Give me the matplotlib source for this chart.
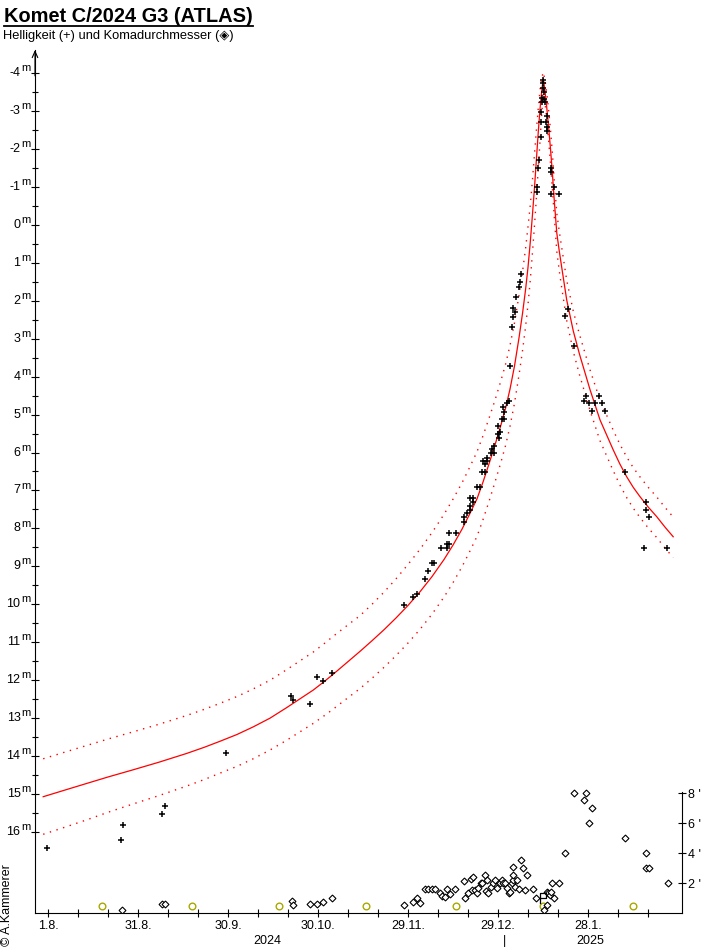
import matplotlib
matplotlib.use('Agg')
import matplotlib.pyplot as plt
import matplotlib.transforms as mtransforms
from matplotlib.lines import Line2D
from matplotlib.ticker import FixedLocator

plt.rcParams['font.family'] = ['Liberation Sans', 'DejaVu Sans']

# x values are days since 1.8.2024

# observed brightness (+)
mag_days = [-0.4, 24.4, 25.1, 38.1, 39.0, 59.2, 81.1, 81.8, 87.4, 89.8, 91.8, 94.8,
            118.8, 121.8, 122.9, 125.8, 126.8, 127.9, 128.8, 130.9, 132.9, 132.9, 133.8,
            133.8, 135.9, 138.8, 138.8, 139.6, 140.7, 140.7, 141.8, 140.8, 141.8, 142.9,
            144.0, 144.6, 145.7, 145.7, 145.1, 146.2, 146.2, 147.6, 148.7, 148.1, 148.7,
            150.2, 149.9, 150.8, 149.9, 151.2, 151.9, 152.0, 151.8, 153.0, 153.8, 154.1,
            154.8, 155.1, 155.8, 155.1, 156.0, 157.0, 157.2, 157.8,
            162.9, 163.1, 163.3, 163.6, 164.2, 164.2, 164.4, 164.7, 164.7, 164.9, 164.9,
            165.1, 165.2, 165.4, 165.6, 166.0, 166.2, 166.4, 166.4, 167.6, 167.8, 167.8,
            168.8, 170.4, 172.4, 173.4, 175.4, 178.8, 179.4, 180.4, 181.4, 182.4, 183.8,
            184.8, 185.8, 192.4, 198.8, 199.4, 199.4, 200.4, 206.4]
mag_vals = [16.43, 16.22, 15.82, 15.53, 15.32, 13.92, 12.42, 12.53, 12.64, 11.92, 12.03, 11.82,
            10.03, 9.82, 9.72, 9.33, 9.13, 8.91, 8.91, 8.52, 8.52, 8.41, 8.41,
            8.13, 8.13, 7.82, 7.70, 7.60, 7.52, 7.41, 7.31, 7.21, 7.21, 6.92,
            6.92, 6.52, 6.52, 6.31, 6.22, 6.22, 6.15, 6.02, 6.02, 5.92, 5.84,
            5.63, 5.52, 5.45, 5.30, 5.13, 5.13, 4.93, 4.81, 4.70, 4.63, 3.71,
            2.70, 2.42, 2.31, 2.20, 1.91, 1.63, 1.51, 1.30,
            -0.99, -0.87, -1.49, -1.70, -2.31, -2.72, -2.98, -3.23, -3.33, -3.60, -3.82,
            -3.73, -3.51, -3.32, -3.23, -2.70, -2.88, -2.59, -2.48, -1.38, -1.49, -0.81,
            -0.99, -0.81, 2.40, 2.22, 3.20, 4.63, 4.52, 4.70, 4.91, 4.70, 4.52,
            4.70, 4.91, 6.52, 8.52, 7.31, 7.52, 7.71, 8.52]

# brightness model (red line) and its dotted limits, all read at the same dates
curve_days = [-1.6, 5.0, 12.9, 20.0, 28.4, 37.0, 46.2, 52.0, 57.3, 63.0, 68.4, 74.0,
              79.6, 84.0, 88.4, 92.0, 95.1, 100.0, 104.0, 108.0, 112.0, 116.0, 120.0,
              124.0, 128.0, 132.0, 135.0, 138.0, 140.5, 143.0, 145.0, 147.0, 149.0, 151.0,
              152.5, 154.0, 155.5, 157.0, 158.2, 159.2, 160.0, 160.8, 161.5, 162.2, 162.8,
              163.4, 164.0, 164.6, 165.1, 165.7, 166.3, 166.9, 167.5, 168.1, 168.7, 169.6,
              170.4, 171.2, 172.9, 175.1, 177.2, 180.7, 184.0, 188.4, 190.6, 192.9, 195.1,
              197.3, 200.1, 202.9, 205.6, 208.4]
curve_mag = [15.07, 14.91, 14.72, 14.55, 14.36, 14.16, 13.93, 13.77, 13.61, 13.43, 13.23, 13.00,
             12.72, 12.49, 12.26, 12.04, 11.84, 11.51, 11.24, 10.96, 10.67, 10.36, 10.03,
             9.67, 9.27, 8.82, 8.44, 8.02, 7.63, 7.22, 6.78, 6.30, 5.80, 5.27,
             4.84, 4.33, 3.72, 2.98, 2.32, 1.70, 1.12, 0.42, -0.28, -1.02, -1.72,
             -2.42, -3.05, -3.55, -3.86, -3.50, -3.05, -2.55, -2.00, -1.40, -0.70, 0.22,
             0.68, 1.10, 1.98, 2.80, 3.42, 4.35, 5.14, 5.93, 6.30, 6.64, 6.92,
             7.16, 7.44, 7.69, 7.96, 8.22]
upper_mag = [14.07, 13.91, 13.72, 13.55, 13.36, 13.16, 12.93, 12.77, 12.61, 12.43, 12.23, 12.00,
             11.72, 11.49, 11.26, 11.04, 10.84, 10.54, 10.30, 10.00, 9.68, 9.33, 8.95,
             8.55, 8.11, 7.63, 7.23, 6.80, 6.40, 5.98, 5.56, 5.10, 4.62, 4.10,
             3.68, 3.18, 2.58, 1.86, 1.22, 0.62, 0.05, -0.55, -1.20, -1.90, -2.50,
             -3.05, -3.55, -3.88, -4.02, -3.80, -3.45, -3.00, -2.50, -1.92, -1.22, -0.30,
             0.16, 0.58, 1.46, 2.28, 2.90, 3.83, 4.62, 5.41, 5.78, 6.12, 6.40,
             6.64, 6.92, 7.17, 7.44, 7.70]
lower_mag = [16.06, 15.89, 15.68, 15.48, 15.26, 15.04, 14.79, 14.62, 14.45, 14.27, 14.07, 13.84,
             13.58, 13.36, 13.14, 12.94, 12.76, 12.46, 12.22, 11.95, 11.66, 11.35, 11.02,
             10.66, 10.26, 9.81, 9.43, 9.01, 8.62, 8.21, 7.77, 7.29, 6.78, 6.25,
             5.82, 5.31, 4.70, 3.96, 3.30, 2.68, 2.10, 1.42, 0.72, -0.02, -0.72,
             -1.45, -2.20, -2.95, -3.45, -3.20, -2.75, -2.20, -1.62, -0.98, -0.28, 0.70,
             1.20, 1.64, 2.52, 3.34, 3.96, 4.90, 5.69, 6.48, 6.85, 7.19, 7.47,
             7.71, 7.99, 8.24, 8.51, 8.77]

# coma diameter in arcmin (diamonds)
coma_days = [24.6, 38.1, 39.0, 81.2, 81.8, 87.3, 89.6, 91.8, 94.8,
             118.8, 121.8, 122.9, 123.9, 125.7, 126.8, 127.9, 129.0, 130.7, 131.2, 132.3,
             133.1, 134.0, 135.7, 138.7, 139.0, 140.1, 141.0, 141.8, 141.2, 142.3, 142.9,
             143.4, 144.3, 144.6, 145.7, 146.2, 146.0, 146.8, 147.5, 148.2, 149.0, 149.6,
             150.7, 151.2, 151.8, 152.3, 152.9, 153.5, 154.0, 154.6, 155.1, 155.1, 155.1,
             155.7, 156.4, 157.0, 157.6, 158.4, 159.0, 159.6, 161.6, 162.7, 165.4, 166.2,
             166.2, 166.8, 167.3, 167.6, 168.1, 168.7, 170.3, 172.3, 175.4, 178.8, 179.3,
             180.3, 181.4, 192.3, 199.3, 199.3, 200.3, 206.6]
coma_vals = [0.22, 0.60, 0.60, 0.80, 0.53, 0.58, 0.58, 0.73, 0.98,
             0.53, 0.76, 0.98, 0.69, 1.58, 1.58, 1.58, 1.58, 1.31, 1.13, 1.09,
             1.58, 1.27, 1.58, 2.16, 0.98, 1.31, 2.24, 2.42, 1.53, 1.53, 1.31,
             1.64, 2.02, 1.98, 2.53, 2.20, 1.49, 1.31, 1.76, 1.98, 2.20, 1.64,
             1.98, 2.20, 1.98, 1.98, 1.64, 1.31, 1.42, 1.98, 2.20, 2.53, 3.04,
             1.76, 2.20, 1.58, 3.53, 3.02, 1.53, 2.53, 1.58, 0.98, 0.20, 0.53,
             1.42, 1.31, 1.20, 1.42, 2.02, 0.98, 2.02, 3.98, 7.98, 7.53, 7.98,
             5.98, 6.98, 4.98, 3.98, 2.98, 2.98, 1.98]

# full moon dates
moon_days = [18, 48, 77, 106, 136, 165, 195]
peri_day = 164.1

mag_ticks = list(range(-4, 17))
date_ticks = [0, 30, 60, 90, 120, 150, 180]
date_labels = ['1.8.', '31.8.', '30.9.', '30.10.', '29.11.', '29.12.', '28.1.']
coma_ticks = [2, 4, 6, 8]

W, H = 707, 950
fig = plt.figure(figsize=(W / 100, H / 100), dpi=100)
ax = fig.add_axes([35 / W, 37 / H, 647 / W, 863 / H])
ax.set_xlim(-4.333, 211.333)
ax.set_ylim(18.134, -4.606)

ax.plot(curve_days, upper_mag, color='red', lw=1.0, ls=(0, (1, 4)))
ax.plot(curve_days, lower_mag, color='red', lw=1.0, ls=(0, (1, 4)))
ax.plot(curve_days, curve_mag, color='red', lw=0.9)
ax.plot(mag_days, mag_vals, '+', color='black', ms=5, mew=1.1, ls='none')

for s in ['top', 'right']:
    ax.spines[s].set_visible(False)
for s in ['left', 'bottom']:
    ax.spines[s].set_linewidth(0.8)

ax.set_yticks(mag_ticks)
ax.set_yticklabels([])
ax.yaxis.set_minor_locator(FixedLocator([t + 0.5 for t in mag_ticks[:-1]]))
ax.tick_params(axis='y', which='major', direction='inout', length=6, width=0.8)
ax.tick_params(axis='y', which='minor', direction='inout', length=5, width=0.8)
ytr = ax.get_yaxis_transform()
mtr = mtransforms.offset_copy(ytr, fig=fig, x=0, y=3.5, units='points')
for m in mag_ticks:
    ax.text(-0.0224, m, str(m), transform=ytr, ha='right', va='center', fontsize=9)
    ax.text(-0.0212, m, 'm', transform=mtr, ha='left', va='center', fontsize=8)

ax.annotate('', xy=(0, 1.0), xycoords='axes fraction', xytext=(0, 0.97),
            arrowprops=dict(arrowstyle='->,head_length=0.45,head_width=0.2',
                            color='black', lw=0.8, shrinkA=0, shrinkB=0))

ax.set_xticks(range(0, 201, 10))
ax.set_xticklabels([date_labels[date_ticks.index(t)] if t in date_ticks else ''
                    for t in range(0, 201, 10)], fontsize=9)
ax.tick_params(axis='x', direction='inout', length=6, width=0.8, pad=2)
xtr = ax.get_xaxis_transform()
ax.text(73, -0.032, '2024', transform=xtr, ha='center', va='center', fontsize=9)
ax.text(180.7, -0.032, '2025', transform=xtr, ha='center', va='center', fontsize=9)
ax.text(152, -0.032, '|', transform=xtr, ha='center', va='center', fontsize=9)

ax2 = ax.twinx()
ax2.set_ylim(0, 863 / 15)
for s in ['top', 'left', 'bottom']:
    ax2.spines[s].set_visible(False)
ax2.spines['right'].set_bounds(0, 8.1)
ax2.spines['right'].set_linewidth(0.8)
ax2.set_yticks(coma_ticks)
ax2.set_yticklabels([f"{c} '" for c in coma_ticks], fontsize=9)
ax2.tick_params(axis='y', direction='inout', length=6, width=0.8, pad=1.5)

ax2.plot(moon_days, [0.45] * len(moon_days), 'o', ms=4.8, mfc='none', mec='#a8a800', mew=1.0,
         ls='none')
ax2.plot(coma_days, coma_vals, 'D', ms=3.5, mfc='white', mec='black', mew=0.8, ls='none')
ax2.plot([peri_day, peri_day, peri_day + 1.8, peri_day + 1.8, peri_day],
         [0.65, 1.31, 1.31, 1.0, 1.0], color='black', lw=0.9)

title = fig.text(4 / W, 1 - 21.7 / H, 'Komet C/2024 G3 (ATLAS)', fontsize=14.4,
                 fontweight='bold', ha='left', va='baseline')
fig.text(3 / W, 1 - 39.3 / H, 'Helligkeit (+) und Komadurchmesser (◈)', fontsize=9.3,
         ha='left', va='baseline')
fig.text(7 / W, 1 - 905 / H, '© A.Kammerer', rotation=90, ha='center', va='center',
         fontsize=9)

fig.canvas.draw()
bb = title.get_window_extent()
fig.add_artist(Line2D([bb.x0 / W, bb.x1 / W], [1 - 25.5 / H, 1 - 25.5 / H],
                      transform=fig.transFigure, color='black', lw=1.3))

fig.savefig('out.png', dpi=100)
